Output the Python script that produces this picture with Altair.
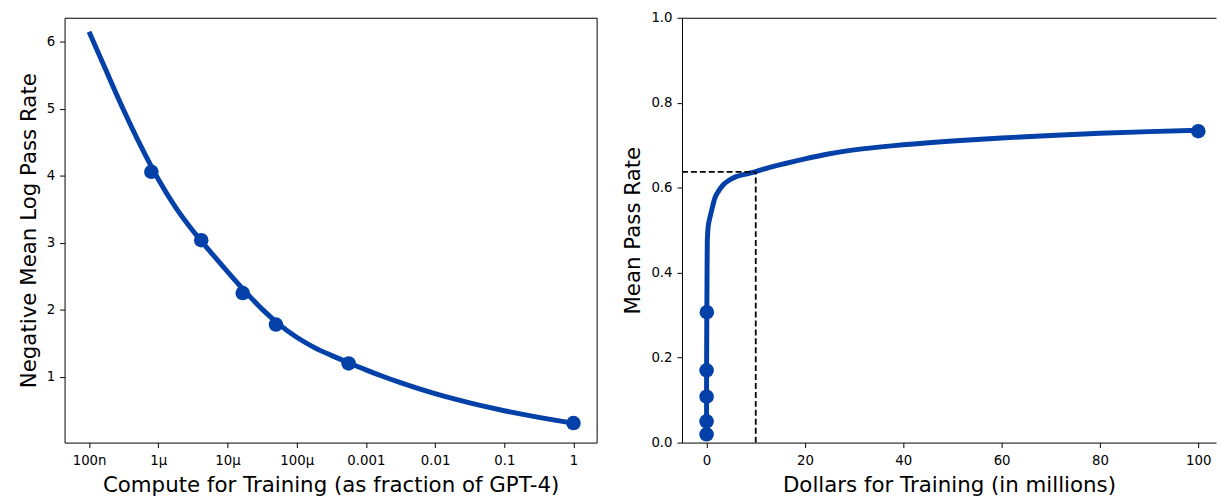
import json
import altair as alt
import pandas as pd

BLUE = "#0340A8"
FONT = "DejaVu Sans"

# ---------------- Left panel data ----------------
left_curve_compute = [1e-7, 1.778e-7, 3.162e-7, 5.623e-7, 1e-6, 1.778e-6, 3.162e-6,
                      5.623e-6, 1e-5, 1.778e-5, 3.162e-5, 5.623e-5, 1e-4, 1.778e-4,
                      3.162e-4, 5.623e-4, 1e-3, 1.778e-3, 3.162e-3, 5.623e-3, 1e-2,
                      1.778e-2, 3.162e-2, 5.623e-2, 1e-1, 1.778e-1, 3.162e-1, 5.623e-1,
                      1.0]
left_curve_nmlpr = [6.15, 5.56, 4.98, 4.44, 3.95, 3.53, 3.18, 2.87, 2.57, 2.28, 2.01,
                    1.78, 1.59, 1.44, 1.32, 1.21, 1.104, 1.004, 0.912, 0.827, 0.749,
                    0.677, 0.611, 0.550, 0.494, 0.442, 0.394, 0.349, 0.307]

left_pts_compute = [7.94e-7, 4.17e-6, 1.66e-5, 5.01e-5, 5.62e-4, 1.0]
left_pts_nmlpr = [4.06, 3.04, 2.25, 1.78, 1.20, 0.31]

left_tick_values = [1e-7, 1e-6, 1e-5, 1e-4, 1e-3, 1e-2, 1e-1, 1.0]
left_tick_labels = ["100n", "1μ", "10μ", "100μ", "0.001", "0.01", "0.1", "1"]
left_y_ticks = [1, 2, 3, 4, 5, 6]
left_x_domain = [4.42e-8, 2.16]
left_y_domain = [0.018, 6.36]

# ---------------- Right panel data ----------------
right_curve_dollars = [0.00008, 0.0004, 0.0017, 0.005, 0.056, 0.1, 0.15, 0.3, 0.67, 1.0,
                       1.7, 2.5, 3.4, 4.5, 6.0, 8.0, 10.0, 12.0, 16.0, 20.0, 25.0, 30.0,
                       40.0, 50.0, 60.0, 70.0, 80.0, 90.0, 100.0]
right_curve_pass = [0.0195, 0.05, 0.108, 0.17, 0.307, 0.40, 0.475, 0.505, 0.529, 0.545,
                    0.576, 0.593, 0.607, 0.617, 0.626, 0.632, 0.638, 0.645, 0.657, 0.668,
                    0.680, 0.689, 0.701, 0.710, 0.717, 0.723, 0.728, 0.732, 0.735]

right_pts_dollars = [0.00008, 0.0004, 0.0017, 0.005, 0.056, 100.0]
right_pts_pass = [0.0195, 0.05, 0.108, 0.17, 0.307, 0.733]

marker_dollars = 10.0
marker_pass = 0.637

right_x_ticks = [0, 20, 40, 60, 80, 100]
right_y_ticks = [0.0, 0.2, 0.4, 0.6, 0.8, 1.0]
right_x_domain = [-5.0, 103.6]
right_y_domain = [0.0, 1.0]

W_LEFT, W_RIGHT, H = 536, 538, 428
LINE_W = 5
PT_SIZE = 215

# ---------------- Left panel ----------------
left_curve_df = pd.DataFrame({"c": left_curve_compute, "l": left_curve_nmlpr})
left_pts_df = pd.DataFrame({"c": left_pts_compute, "l": left_pts_nmlpr})

label_array = json.dumps(left_tick_labels, ensure_ascii=False)
left_x = alt.X(
    "c:Q",
    scale=alt.Scale(type="log", domain=left_x_domain, nice=False),
    axis=alt.Axis(
        values=left_tick_values,
        labelExpr=f"{label_array}[round(log(datum.value)/LN10)+7]",
        title="Compute for Training (as fraction of GPT-4)",
        labelFlush=False,
        labelOverlap=False,
        domain=False,
    ),
)
left_y = alt.Y(
    "l:Q",
    scale=alt.Scale(domain=left_y_domain, nice=False, zero=False),
    axis=alt.Axis(values=left_y_ticks, format="d", title="Negative Mean Log Pass Rate",
                  domain=False),
)

left_line = alt.Chart(left_curve_df).mark_line(
    color=BLUE, strokeWidth=LINE_W, interpolate="monotone"
).encode(x=left_x, y=left_y)
left_points = alt.Chart(left_pts_df).mark_circle(
    color=BLUE, size=PT_SIZE, opacity=1
).encode(x=alt.X("c:Q"), y=alt.Y("l:Q"))

left = alt.layer(left_line, left_points).properties(width=W_LEFT, height=H)

# ---------------- Right panel ----------------
right_curve_df = pd.DataFrame({"d": right_curve_dollars, "p": right_curve_pass})
right_pts_df = pd.DataFrame({"d": right_pts_dollars, "p": right_pts_pass})
marker_df = pd.DataFrame({"d0": [right_x_domain[0]], "d": [marker_dollars],
                          "p0": [right_y_domain[0]], "p": [marker_pass]})

rx_scale = alt.Scale(domain=right_x_domain, nice=False, zero=False)
ry_scale = alt.Scale(domain=right_y_domain, nice=False)

right_x = alt.X("d:Q", scale=rx_scale,
                axis=alt.Axis(values=right_x_ticks, format="d", orient="bottom",
                              title="Dollars for Training (in millions)",
                              labelFlush=False))
right_y = alt.Y("p:Q", scale=ry_scale,
                axis=alt.Axis(values=right_y_ticks, format=".1f",
                              title="Mean Pass Rate", labelFlush=False))

right_line = alt.Chart(right_curve_df).mark_line(
    color=BLUE, strokeWidth=LINE_W, interpolate="monotone"
).encode(x=right_x, y=right_y)
right_points = alt.Chart(right_pts_df).mark_circle(
    color=BLUE, size=PT_SIZE, opacity=1
).encode(x=alt.X("d:Q", axis=None), y=alt.Y("p:Q"))

dash_style = dict(color="black", strokeWidth=1.8, strokeDash=[6, 3])
h_dash = alt.Chart(marker_df).mark_rule(**dash_style).encode(
    x=alt.X("d0:Q", axis=alt.Axis(orient="top", labels=False, ticks=False,
                                  domain=True, title=None, grid=False)),
    x2="d:Q",
    y=alt.Y("p:Q"),
)
v_dash = alt.Chart(marker_df).mark_rule(**dash_style).encode(
    x=alt.X("d:Q", axis=None),
    y=alt.Y("p0:Q"),
    y2="p:Q",
)

right = (
    alt.layer(right_line, right_points, h_dash, v_dash)
    .resolve_axis(x="independent")
    .properties(width=W_RIGHT, height=H, view=alt.ViewBackground(stroke="transparent"))
)

chart = (
    alt.hconcat(left, right, spacing=25)
    .properties(padding={"left": 9, "top": 0, "right": 0, "bottom": 0})
    .configure(font=FONT)
    .configure_view(stroke="black", strokeWidth=1)
    .configure_axis(
        grid=False,
        domainColor="black",
        domainWidth=1,
        tickColor="black",
        tickSize=5,
        tickWidth=1,
        labelColor="black",
        labelFont=FONT,
        labelFontSize=13.4,
        labelPadding=5,
        titleColor="black",
        titleFont=FONT,
        titleFontSize=21.5,
        titleFontWeight="normal",
        titlePadding=6,
    )
    .configure_axisX(labelPadding=6, titlePadding=8)
)

chart.save("out.html", embed_options={"renderer": "svg", "actions": False})
